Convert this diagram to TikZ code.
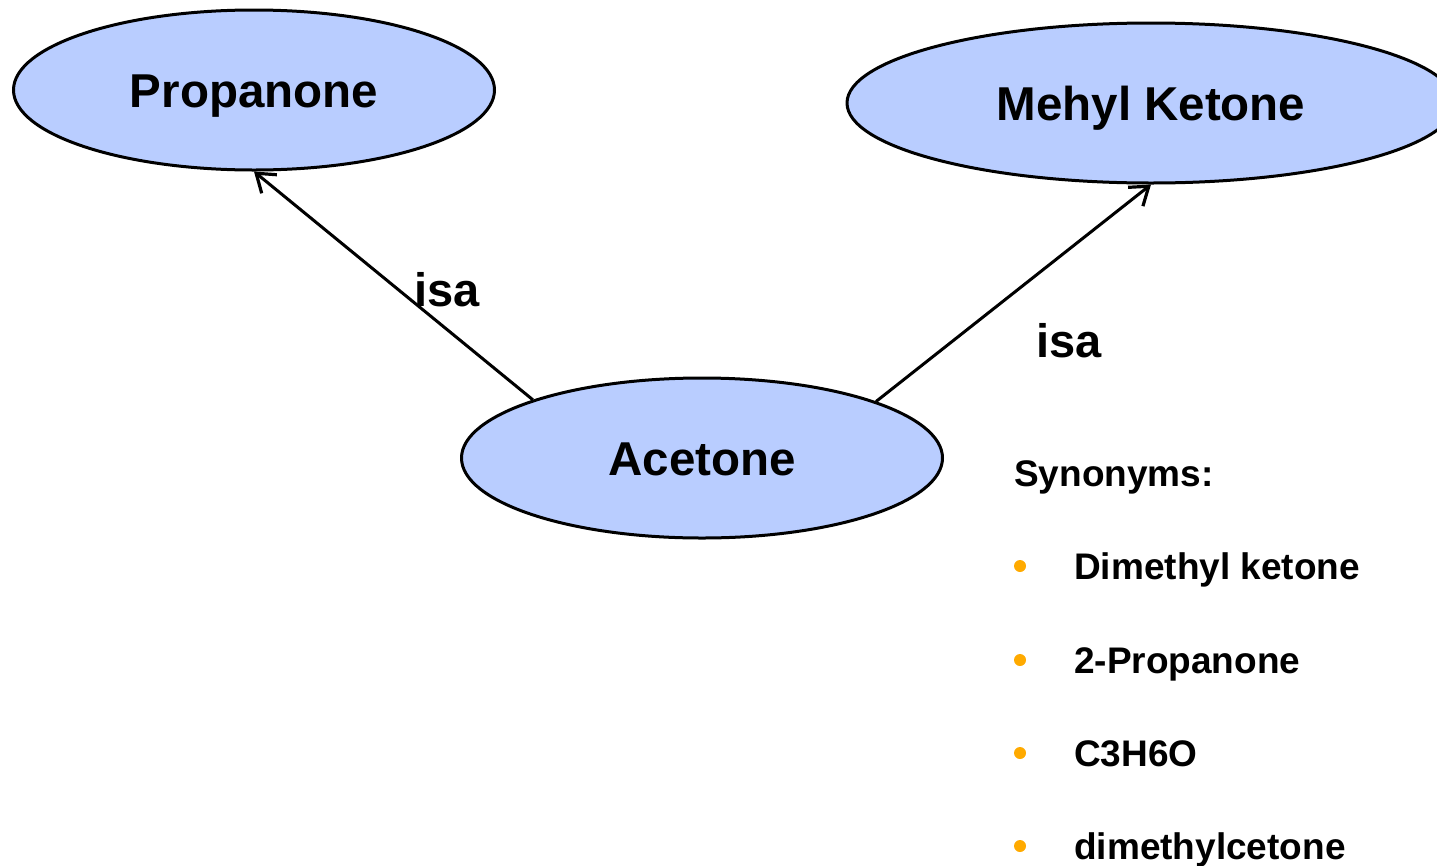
\documentclass[tikz,border=0pt]{standalone}
\usepackage{fontspec}
\setmainfont{Liberation Sans}
\usetikzlibrary{shapes.geometric,arrows.meta}
\definecolor{ellfill}{RGB}{185,205,255}
\definecolor{bulletc}{RGB}{255,170,0}
\tikzset{
  concept/.style={ellipse, draw=black, line width=3pt, fill=ellfill, inner sep=0pt,
    minimum height=160pt, font=\fontsize{47.5pt}{50pt}\selectfont\bfseries,
    text height=34pt, text depth=0pt},
  rel/.style={line width=3pt, -{Straight Barb[length=17pt,width=24pt,line width=3.2pt]}},
  rellabel/.style={font=\fontsize{47pt}{50pt}\selectfont\bfseries, inner sep=0pt,
    text height=33.6pt, text depth=0pt},
  listtext/.style={font=\fontsize{37pt}{40pt}\selectfont\bfseries, anchor=west, inner sep=0pt,
    text height=26.5pt, text depth=0pt},
  bulletdot/.style={circle, fill=bulletc, inner sep=0pt, minimum size=12pt}
}
\begin{document}
\begin{tikzpicture}[x=1pt,y=-1pt]
\useasboundingbox (0,0) rectangle (1437,865);
\clip (0,0) rectangle (1437,865);
\node[concept, minimum width=481pt] (prop) at (254,90) {Propanone};
\node[concept, minimum width=608pt] (mk) at (1151,103) {Mehyl Ketone};
\node[concept, minimum width=481pt] (ac) at (702,458) {Acetone};
\draw[rel] (ac.161) -- (prop.south);
\draw[rel] (ac.18.4) -- (mk.south);
\node[rellabel] (isa1) at (447,290) {isa};
\node[rellabel] (isa2) at (1069,341) {isa};
\node[listtext] (syn) at (1014,473) {Synonyms:};
\node[bulletdot] (b1) at (1020,566) {};
\node[bulletdot] (b2) at (1020,660) {};
\node[bulletdot] (b3) at (1020,753) {};
\node[bulletdot] (b4) at (1020,846) {};
\node[listtext] (s1) at (1074,566) {Dimethyl ketone};
\node[listtext] (s2) at (1074,660) {2-Propanone};
\node[listtext] (s3) at (1074,753) {C3H6O};
\node[listtext] (s4) at (1074,846) {dimethylcetone};
\end{tikzpicture}
\end{document}
